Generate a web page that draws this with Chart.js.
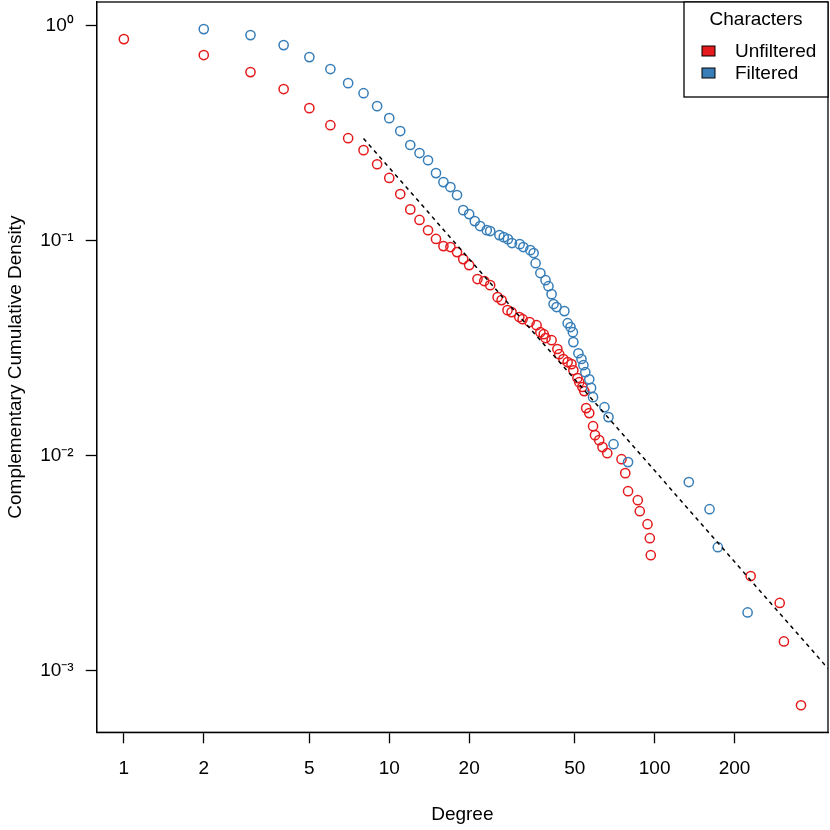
<!DOCTYPE html>
<html>
<head>
<meta charset="utf-8">
<script src="https://cdn.jsdelivr.net/npm/chart.js@4.4.1/dist/chart.umd.min.js"></script>
<style>
  html, body { margin: 0; padding: 0; background: #fff; }
  canvas { display: block; }
</style>
</head>
<body>
<canvas id="ccdf" width="830" height="830"></canvas>
<script>
// values (log-log CCDF of degree)
const unfilteredDegree = [1, 2, 3, 4, 5, 6, 7, 8, 9, 10, 11, 12, 13, 14, 15, 16, 17, 18, 19, 20,
  21.5, 22.8, 24, 25.6, 26.5, 27.9, 28.9, 30.9, 31.8, 33.8, 35.9, 37.1, 38.2, 38.8, 40.9,
  43, 43.7, 45.3, 47, 48.6, 49.4, 51.2, 52, 53.4, 54.3, 55.2, 56.7, 58.6, 59.6, 61.8, 63.6,
  66.3, 75, 77.5, 79.4, 86.4, 87.9, 94, 95.9, 96.7, 230, 296, 307, 356];
const unfilteredCCDF = [0.867, 0.731, 0.609, 0.508, 0.414, 0.345, 0.300, 0.264, 0.227, 0.196,
  0.165, 0.140, 0.125, 0.112, 0.102, 0.0945, 0.0935, 0.0886, 0.0822, 0.0771,
  0.0664, 0.0650, 0.0622, 0.0547, 0.0530, 0.0476, 0.0466, 0.0442, 0.0432, 0.0419, 0.0405,
  0.0376, 0.0368, 0.0353, 0.0345, 0.0314, 0.0297, 0.0282, 0.0273, 0.0267, 0.0250, 0.0230,
  0.0220, 0.0209, 0.0200, 0.01667, 0.0158, 0.01374, 0.01248, 0.01183, 0.01098, 0.01029,
  0.00965, 0.00831, 0.00685, 0.00622, 0.00553, 0.00481, 0.00414, 0.00345,
  0.00276, 0.00207, 0.00137, 0.000692];

const filteredDegree = [2, 3, 4, 5, 6, 7, 8, 9, 10, 11, 12, 13, 14, 15, 16, 17, 18, 19, 20, 21,
  22, 23.3, 24, 26, 27, 28, 29, 31, 32, 34, 35, 35.6, 37.1, 38.8, 39.8, 40.9, 41.6, 42.7,
  45.7, 47, 48.2, 49.2, 49.4, 51.6, 53, 53.9, 54.8, 56.7, 57.6, 58.6, 64.7, 67, 70, 79.4,
  134.5, 161, 173, 224];
const filteredCCDF = [0.965, 0.905, 0.813, 0.715, 0.629, 0.541, 0.486, 0.423, 0.372, 0.324,
  0.279, 0.256, 0.237, 0.2065, 0.1875, 0.1778, 0.1632, 0.1389, 0.1331, 0.1235,
  0.1171, 0.1121, 0.1110, 0.1063, 0.1040, 0.1018, 0.0976, 0.0965, 0.0935, 0.0905, 0.0877,
  0.0787, 0.0708, 0.0656, 0.0615, 0.0565, 0.0508, 0.0492, 0.0471, 0.0414, 0.0397, 0.0376,
  0.0338, 0.0300, 0.0282, 0.0264, 0.0245, 0.0227, 0.0207, 0.01875, 0.01684, 0.01514,
  0.01133, 0.00935, 0.00755, 0.00565, 0.00376, 0.00187];

// dashed power-law fit, endpoints
const fitDegree = [8, 450];
const fitCCDF = [0.2994, 0.001026];

const xTickValues = [1, 2, 5, 10, 20, 50, 100, 200];
const yTickValues = [1, 0.1, 0.01, 0.001];
const yTickLabels = ['10\u2070', '10\u207B\u00B9', '10\u207B\u00B2', '10\u207B\u00B3'];

const legendTitle = 'Characters';
const seriesNames = ['Unfiltered', 'Filtered'];
const seriesColors = ['#E41A1C', '#377EB8'];

const FONT = "'Liberation Sans', Arial, Helvetica, sans-serif";

const toPoints = (xs, ys) => xs.map((x, i) => ({ x: x, y: ys[i] }));

// box round the plot region, like R's box()
const plotBox = {
  id: 'plotBox',
  afterDraw(chart) {
    const { ctx, chartArea: a } = chart;
    ctx.save();
    ctx.strokeStyle = '#000';
    ctx.lineWidth = 1.3;
    ctx.strokeRect(a.left, a.top, a.right - a.left, a.bottom - a.top);
    ctx.restore();
  }
};

// R style legend in the top right corner
const boxLegend = {
  id: 'boxLegend',
  afterDraw(chart) {
    const { ctx, chartArea: a } = chart;
    const w = 144, h = 95;
    const left = a.right - w, top = a.top;
    ctx.save();
    ctx.fillStyle = '#fff';
    ctx.fillRect(left, top, w, h);
    ctx.strokeStyle = '#000';
    ctx.lineWidth = 1.3;
    ctx.strokeRect(left, top, w, h);
    ctx.font = '19px ' + FONT;
    ctx.fillStyle = '#000';
    ctx.textAlign = 'center';
    ctx.textBaseline = 'middle';
    ctx.fillText(legendTitle, left + 72, top + 18);
    seriesNames.forEach((name, i) => {
      const cy = top + 49 + i * 22;
      ctx.fillStyle = seriesColors[i];
      ctx.fillRect(left + 18, cy - 5, 13, 10);
      ctx.strokeStyle = '#000';
      ctx.lineWidth = 1;
      ctx.strokeRect(left + 18, cy - 5, 13, 10);
      ctx.fillStyle = '#000';
      ctx.textAlign = 'left';
      ctx.fillText(name, left + 51, cy + 1);
    });
    ctx.restore();
  }
};

const axisGrid = {
  drawOnChartArea: false,
  drawTicks: true,
  tickLength: 11,
  tickColor: '#000',
  tickWidth: 1.3,
  color: '#000'
};

new Chart(document.getElementById('ccdf').getContext('2d'), {
  type: 'scatter',
  data: {
    datasets: [
      {
        type: 'line',
        label: 'fit',
        data: toPoints(fitDegree, fitCCDF),
        borderColor: '#000',
        borderWidth: 1.5,
        borderDash: [4, 4],
        pointRadius: 0,
        fill: false,
        order: 0
      },
      {
        label: seriesNames[1],
        data: toPoints(filteredDegree, filteredCCDF),
        borderColor: seriesColors[1],
        backgroundColor: 'rgba(0,0,0,0)',
        pointRadius: 4.6,
        pointBorderWidth: 1.5,
        order: 1
      },
      {
        label: seriesNames[0],
        data: toPoints(unfilteredDegree, unfilteredCCDF),
        borderColor: seriesColors[0],
        backgroundColor: 'rgba(0,0,0,0)',
        pointRadius: 4.6,
        pointBorderWidth: 1.5,
        order: 2
      }
    ]
  },
  options: {
    responsive: false,
    animation: false,
    devicePixelRatio: 1,
    layout: { autoPadding: false, padding: { top: 2, right: 2, left: 0, bottom: 0 } },
    plugins: {
      legend: { display: false },
      tooltip: { enabled: false }
    },
    scales: {
      x: {
        type: 'logarithmic',
        min: 0.79,
        max: 450,
        afterBuildTicks: s => { s.ticks = xTickValues.map(v => ({ value: v })); },
        afterFit: s => { s.height = 97.7; s.paddingLeft = 0; s.paddingRight = 0; },
        ticks: {
          autoSkip: false,
          maxRotation: 0,
          padding: 14,
          color: '#000',
          font: { family: FONT, size: 19 },
          callback: v => String(v)
        },
        grid: axisGrid,
        border: { display: true, color: '#000', width: 1.3 },
        title: {
          display: true,
          text: 'Degree',
          color: '#000',
          font: { family: FONT, size: 19 },
          padding: { top: 0, bottom: 4 }
        }
      },
      y: {
        type: 'logarithmic',
        min: 0.000518,
        max: 1.29,
        afterBuildTicks: s => { s.ticks = yTickValues.map(v => ({ value: v })); },
        afterFit: s => { s.width = 96.7; s.paddingTop = 0; s.paddingBottom = 0; },
        ticks: {
          autoSkip: false,
          padding: 12,
          color: '#000',
          font: { family: FONT, size: 19 },
          callback: v => yTickLabels[yTickValues.indexOf(v)]
        },
        grid: axisGrid,
        border: { display: true, color: '#000', width: 1.3 },
        title: {
          display: true,
          text: 'Complementary Cumulative Density',
          color: '#000',
          font: { family: FONT, size: 19 },
          padding: { top: 4, bottom: 0 }
        }
      }
    }
  },
  plugins: [plotBox, boxLegend]
});
</script>
</body>
</html>
